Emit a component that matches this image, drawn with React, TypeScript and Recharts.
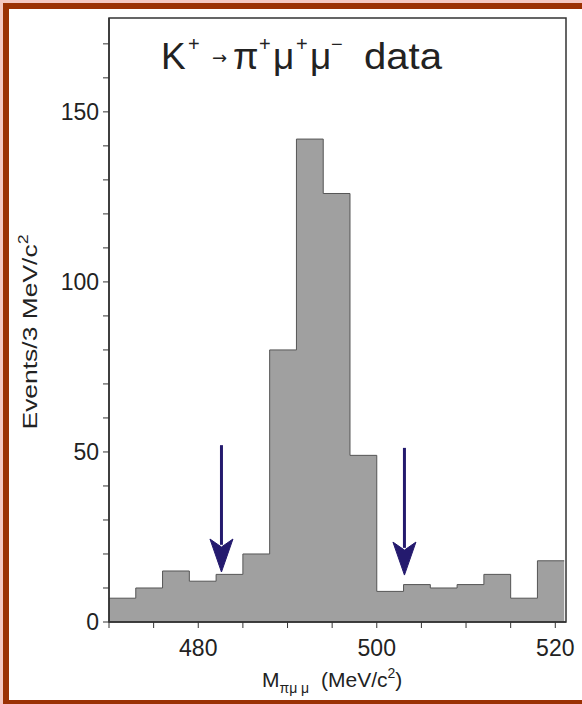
import React from 'react';
import {
  ComposedChart,
  Area,
  XAxis,
  YAxis,
  ReferenceArea,
  ReferenceLine,
  ReferenceDot,
} from 'recharts';

// Lower edges of the 3 MeV/c^2 mass bins and the event count in each
const binLow = [470, 473, 476, 479, 482, 485, 488, 491, 494, 497, 500, 503, 506, 509, 512, 515, 518];
const counts = [7, 10, 15, 12, 14, 20, 80, 142, 126, 49, 9, 11, 10, 11, 14, 7, 18];
const BIN_WIDTH = 3;

const xTicks = [470, 475, 480, 485, 490, 495, 500, 505, 510, 515, 520];
const xLabels = [480, 500, 520];
const yTicks = [0, 10, 20, 30, 40, 50, 60, 70, 80, 90, 100, 110, 120, 130, 140, 150, 160, 170];
const yLabels = [0, 50, 100, 150];

// signal-window cut markers: mass position, where the arrow starts and where its tip lands
const cutMass = [482.6, 503.1];
const cutTop = [52, 51.2];
const cutTip = [14.7, 13.8];

const X_DOMAIN: [number, number] = [470, 521.2];
const Y_DOMAIN: [number, number] = [0, 177.6];

// step histogram: one point per lower edge, plus the closing upper edge
const histData = [
  ...binLow.map((m, i) => ({ m, n: counts[i] })),
  { m: binLow[binLow.length - 1] + BIN_WIDTH, n: counts[counts.length - 1] },
];

const FONT = '"Liberation Sans", Arial, Helvetica, sans-serif';
const INK = '#222';
const FRAME = '#333';
const NAVY = '#241a6e';

const ArrowHead = (props: any) => {
  const { cx, cy } = props;
  if (cx == null || cy == null) return null;
  const d = `M${cx},${cy} L${cx - 11.5},${cy - 33} L${cx},${cy - 25} L${cx + 11.5},${cy - 33} Z`;
  return <path d={d} fill={NAVY} stroke={NAVY} strokeWidth={1} />;
};

const YLabel = () => (
  <text
    x={0}
    y={0}
    transform="translate(37, 332) rotate(-90)"
    textAnchor="middle"
    fontFamily={FONT}
    fontSize={21}
    fill={INK}
    textLength={195}
    lengthAdjust="spacingAndGlyphs"
  >
    Events/3 MeV/c<tspan fontSize={14} dy={-9}>2</tspan>
  </text>
);

const XLabel = () => (
  <text x={262} y={687} fontFamily={FONT} fontSize={21} fill={INK}>
    M
    <tspan fontSize={14} dy={6}>πμ μ</tspan>
    <tspan x={321} dy={-6}>(MeV/c</tspan>
    <tspan fontSize={14} dy={-9}>2</tspan>
    <tspan dy={9}>)</tspan>
  </text>
);

const Title = () => (
  <svg width={582} height={100} style={{ position: 'absolute', left: 0, top: 0, pointerEvents: 'none' }}>
    <text fontFamily={FONT} fill={INK}>
      <tspan x={161} y={68.5} fontSize={37}>K</tspan>
      <tspan x={188} y={51} fontSize={20}>+</tspan>
    </text>
    <text x={212} y={64} fontFamily='"DejaVu Sans", sans-serif' fontSize={18} fill={INK}>→</text>
    <text fontFamily={FONT} fill={INK}>
      <tspan x={233} y={68.5} fontSize={37}>π</tspan>
      <tspan x={259} y={51} fontSize={20}>+</tspan>
      <tspan x={273} y={68.5} fontSize={37}>μ</tspan>
      <tspan x={296} y={51} fontSize={20}>+</tspan>
      <tspan x={310} y={68.5} fontSize={37}>μ</tspan>
      <tspan x={331} y={51} fontSize={20}>−</tspan>
      <tspan x={364} y={68.5} fontSize={37} textLength={78} lengthAdjust="spacingAndGlyphs">data</tspan>
    </text>
  </svg>
);

const App: React.FC = () => {
  return (
    <div style={{ position: 'absolute', left: 0, top: 0, width: 582, height: 704, background: '#f5c8c2', overflow: 'hidden' }}>
      <div
        style={{
          position: 'absolute',
          left: 3,
          top: 3,
          right: 0,
          bottom: 0,
          background: '#fff',
          borderLeft: '6px solid #9b3104',
          borderTop: '6px solid #9b3104',
          borderBottom: '4px solid #9b3104',
        }}
      />
      <div style={{ position: 'absolute', left: 0, top: 0 }}>
        <ComposedChart width={582} height={704} data={histData} margin={{ top: 18, right: 16, bottom: 0, left: 0 }}>
          <XAxis
            type="number"
            dataKey="m"
            domain={X_DOMAIN}
            allowDataOverflow
            ticks={xTicks}
            interval={0}
            tickFormatter={(v: number) => (xLabels.includes(v) ? String(v) : '')}
            tick={{ fontFamily: FONT, fontSize: 23, fill: INK }}
            tickSize={6}
            tickMargin={12}
            height={82}
            axisLine={{ stroke: FRAME, strokeWidth: 1.5 }}
            tickLine={{ stroke: FRAME }}
            label={{ content: <XLabel /> }}
          />
          <YAxis
            type="number"
            domain={Y_DOMAIN}
            allowDataOverflow
            ticks={yTicks}
            interval={0}
            tickFormatter={(v: number) => (yLabels.includes(v) ? String(v) : '')}
            tick={{ fontFamily: FONT, fontSize: 23, fill: INK }}
            tickSize={6}
            tickMargin={4}
            width={109}
            axisLine={{ stroke: FRAME, strokeWidth: 1.5 }}
            tickLine={{ stroke: FRAME }}
            label={{ content: <YLabel /> }}
          />
          <Area
            type="stepAfter"
            dataKey="n"
            baseValue={0}
            stroke="#555"
            strokeWidth={1}
            fill="#a0a0a0"
            fillOpacity={1}
            dot={false}
            activeDot={false}
            isAnimationActive={false}
          />
          <ReferenceArea
            x1={X_DOMAIN[0]}
            x2={X_DOMAIN[1]}
            y1={Y_DOMAIN[0]}
            y2={Y_DOMAIN[1]}
            fill="none"
            fillOpacity={0}
            stroke={FRAME}
            strokeWidth={1.5}
          />
          {cutMass.map((m, i) => (
            <ReferenceLine
              key={`shaft-${i}`}
              segment={[{ x: m, y: cutTop[i] }, { x: m, y: cutTip[i] + 8 }]}
              stroke={NAVY}
              strokeWidth={3}
            />
          ))}
          {cutMass.map((m, i) => (
            <ReferenceDot key={`head-${i}`} x={m} y={cutTip[i]} r={0} shape={ArrowHead} />
          ))}
        </ComposedChart>
      </div>
      <Title />
    </div>
  );
};

export default App;
